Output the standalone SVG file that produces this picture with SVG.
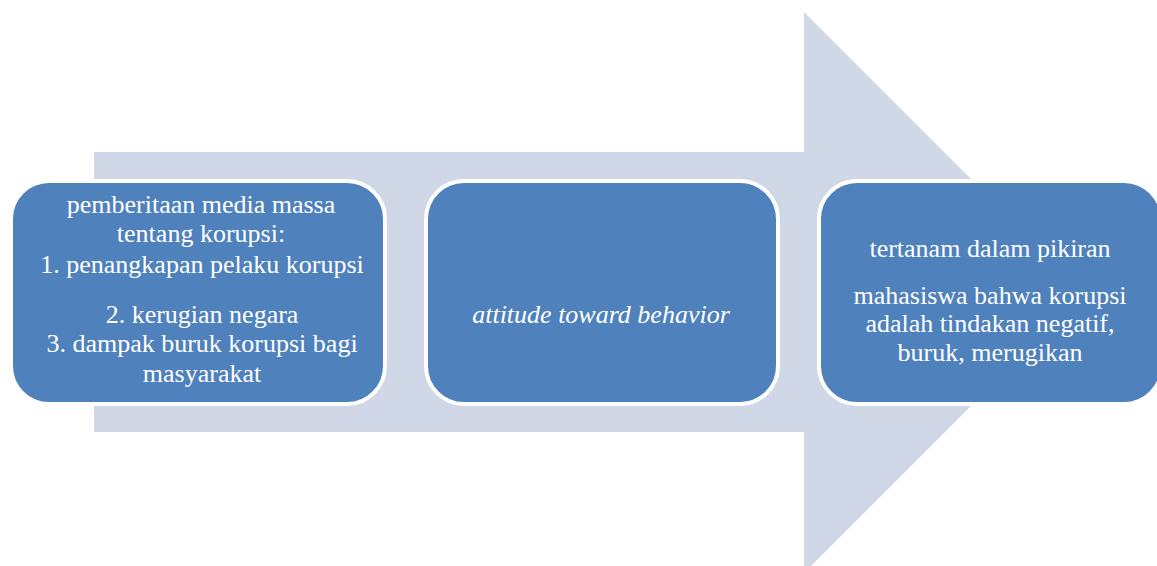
<svg xmlns="http://www.w3.org/2000/svg" width="1157" height="566" viewBox="0 0 1157 566">
<style>
.bg{fill:#ffffff}
.arrow{fill:#D0D8E8}
.box{fill:#4F81BD;stroke:#ffffff;stroke-width:4}
.t{font-family:'Liberation Serif','Tinos','DejaVu Serif',serif;font-size:26px;fill:#ffffff;text-anchor:middle}
.i{font-style:italic}
</style>
<rect class="bg" x="0" y="0" width="1157" height="566"/>
<g id="connectors">
<path class="arrow" d="M94,152 H804 V12 L1084.5,292.5 L804,573 V432 H94 Z"/>
</g>
<g id="node1">
<rect class="box" x="11" y="181" width="374" height="223" rx="38" ry="38"/>
<text class="t" x="201" y="213" font-family="Liberation Serif">pemberitaan media massa</text>
<text class="t" x="201" y="242">tentang korupsi:</text>
<text class="t" x="202" y="273">1. penangkapan pelaku korupsi</text>
<text class="t" x="202" y="323">2. kerugian negara</text>
<text class="t" x="202" y="352">3. dampak buruk korupsi bagi</text>
<text class="t" x="202" y="382">masyarakat</text>
</g>
<g id="node2">
<rect class="box" x="426" y="181" width="352" height="223" rx="38" ry="38"/>
<text class="t i" x="601" y="323">attitude toward behavior</text>
</g>
<g id="node3">
<rect class="box" x="819" y="181" width="343" height="223" rx="38" ry="38"/>
<text class="t" x="990" y="257">tertanam dalam pikiran</text>
<text class="t" x="990" y="304">mahasiswa bahwa korupsi</text>
<text class="t" x="990" y="332">adalah tindakan negatif,</text>
<text class="t" x="990" y="361">buruk, merugikan</text>
</g>
</svg>
